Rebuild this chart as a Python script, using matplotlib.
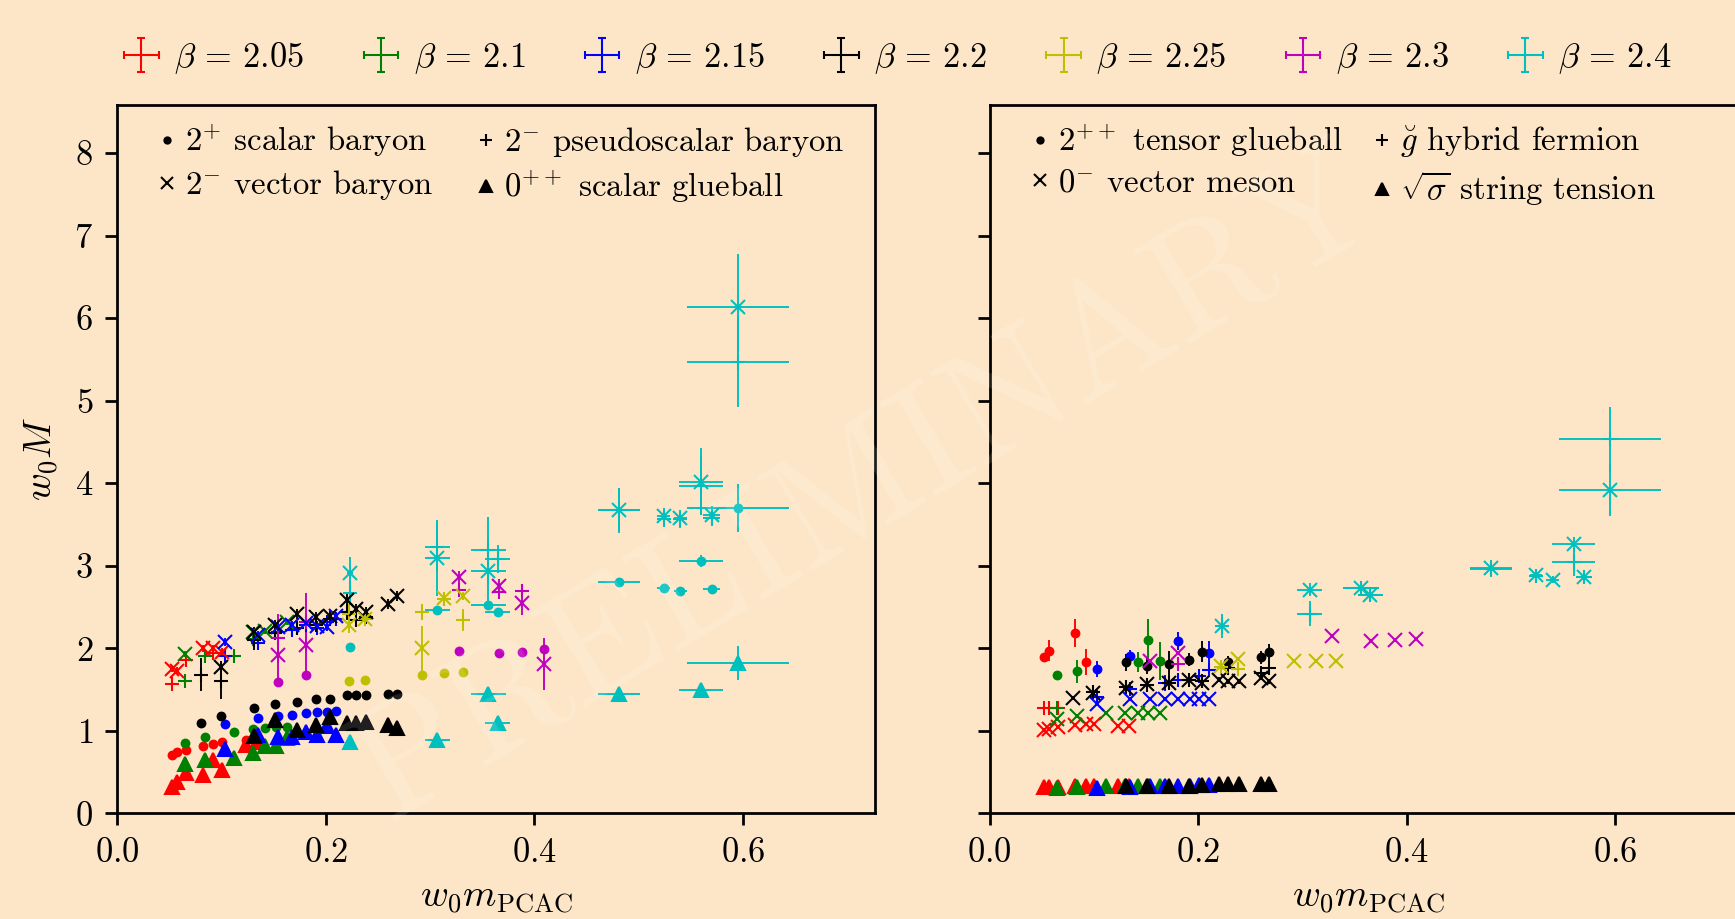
import numpy as np
import matplotlib
matplotlib.use('Agg')
import matplotlib.pyplot as plt

nan = np.nan

betas = ['2.05', '2.1', '2.15', '2.2', '2.25', '2.3', '2.4']
colors = ['r', 'g', 'b', 'k', 'y', 'm', 'c']

# w0 m_PCAC per ensemble, one list per beta
w0_mpcac = [
	[0.052, 0.057, 0.066, 0.082, 0.092, 0.100, 0.123, 0.134],
	[0.065, 0.084, 0.112, 0.130, 0.142, 0.152, 0.163],
	[0.103, 0.135, 0.154, 0.168, 0.181, 0.192, 0.201, 0.210],
	[0.080, 0.099, 0.131, 0.151, 0.172, 0.191, 0.204, 0.220, 0.229, 0.239, 0.260, 0.268],
	[0.222, 0.238, 0.292, 0.313, 0.332],
	[0.154, 0.181, 0.328, 0.366, 0.3885, 0.409],
	[0.223, 0.307, 0.356, 0.365, 0.481, 0.524, 0.540, 0.560, 0.570, 0.595],
]
w0_mpcac_err = [
	[0, 0, 0, 0, 0, 0, 0, 0],
	[0, 0, 0, 0, 0, 0, 0],
	[0, 0, 0, 0, 0, 0, 0, 0],
	[0, 0, 0, 0, 0, 0, 0, 0, 0, 0, 0, 0],
	[0, 0, 0, 0, 0],
	[0, 0, 0, 0, 0, 0],
	[0.003, 0.012, 0.017, 0.012, 0.020, 0.006, 0.006, 0.021, 0.008, 0.049],
]

# left panel
scalar_baryon = [
	[0.71, 0.74, 0.77, 0.82, 0.84, 0.86, 0.89, 0.87],
	[0.85, 0.92, 0.99, 1.02, 1.03, 1.04, 1.05],
	[1.08, 1.15, 1.18, 1.19, 1.21, 1.23, 1.23, 1.24],
	[1.10, 1.18, 1.28, 1.32, 1.35, 1.39, 1.39, 1.43, 1.43, 1.43, 1.45, 1.45],
	[1.60, 1.61, 1.67, 1.70, 1.71],
	[1.59, 1.68, 1.97, 1.94, 1.96, 1.99],
	[2.02, 2.46, 2.52, 2.44, 2.80, 2.73, 2.69, 3.06, 2.72, 3.70],
]
scalar_baryon_err = [
	[0.02, 0.02, 0.02, 0.02, 0.02, 0.02, 0.02, 0.02],
	[0.02, 0.02, 0.02, 0.02, 0.02, 0.02, 0.02],
	[0.02, 0.02, 0.02, 0.02, 0.02, 0.02, 0.02, 0.02],
	[0.02, 0.02, 0.02, 0.02, 0.02, 0.02, 0.02, 0.02, 0.02, 0.02, 0.02, 0.02],
	[0.02, 0.02, 0.02, 0.02, 0.02],
	[0.02, 0.02, 0.03, 0.03, 0.03, 0.03],
	[0.03, 0.04, 0.04, 0.04, 0.05, 0.03, 0.03, 0.07, 0.03, 0.29],
]

pseudoscalar_baryon = [
	[1.57, nan, 1.86, nan, 1.94, nan, nan, nan],
	[1.60, 1.90, 1.91, 2.11, nan, nan, nan],
	[1.91, 2.06, 2.20, 2.22, 2.28, 2.25, 2.32, 2.35],
	[1.68, 1.60, 2.10, 2.18, 2.24, 2.28, 2.35, 2.44, 2.34, 2.38, nan, nan],
	[2.42, 2.36, 2.44, 2.60, 2.34],
	[2.12, 2.32, 2.70, 2.68, 2.69, nan],
	[2.67, 3.23, 3.19, 3.08, 3.68, 3.57, 3.56, 3.97, 3.58, 5.47],
]
pseudoscalar_baryon_err = [
	[0.03, nan, 0.04, nan, 0.04, nan, nan, nan],
	[0.03, 0.04, 0.04, 0.05, nan, nan, nan],
	[0.04, 0.05, 0.05, 0.05, 0.05, 0.05, 0.05, 0.05],
	[0.20, 0.22, 0.12, 0.08, 0.06, 0.06, 0.08, 0.10, 0.06, 0.06, nan, nan],
	[0.12, 0.05, 0.10, 0.05, 0.13],
	[0.30, 0.35, 0.06, 0.06, 0.06, nan],
	[0.15, 0.30, 0.40, 0.17, 0.25, 0.10, 0.10, 0.35, 0.10, 0.55],
]

vector_baryon = [
	[1.75, 1.73, nan, 2.00, 2.00, 1.96, nan, nan],
	[1.93, nan, nan, 2.20, 2.21, nan, 2.32],
	[2.08, 2.16, 2.26, 2.28, 2.30, 2.27, 2.26, 2.39],
	[nan, 1.77, 2.20, 2.28, 2.42, 2.38, 2.39, 2.58, 2.47, 2.44, 2.54, 2.63],
	[2.28, 2.36, 2.00, 2.61, 2.63],
	[1.92, 2.04, 2.86, 2.76, 2.55, 1.81],
	[2.91, 3.09, 2.93, nan, 3.67, 3.60, 3.58, 4.02, 3.62, 6.13],
]
vector_baryon_err = [
	[0.04, 0.04, nan, 0.04, 0.04, 0.04, nan, nan],
	[0.04, nan, nan, 0.04, 0.04, nan, 0.04],
	[0.05, 0.05, 0.05, 0.05, 0.05, 0.05, 0.05, 0.05],
	[nan, 0.08, 0.06, 0.06, 0.06, 0.06, 0.06, 0.08, 0.06, 0.06, 0.06, 0.06],
	[0.10, 0.05, 0.27, 0.05, 0.05],
	[0.30, 0.38, 0.08, 0.08, 0.15, 0.31],
	[0.20, 0.46, 0.41, nan, 0.27, 0.10, 0.10, 0.40, 0.10, 0.65],
]

scalar_glueball = [
	[0.32, 0.38, 0.49, 0.46, 0.65, 0.52, 0.83, 0.86],
	[0.60, 0.65, 0.67, 0.73, 0.82, 0.81, 0.91],
	[0.78, 0.95, 0.93, 0.93, 0.98, 0.95, 1.06, 0.95],
	[nan, nan, 0.94, 1.13, 1.01, 1.07, 1.17, 1.09, 1.09, 1.11, 1.07, 1.03],
	[nan, nan, nan, nan, nan],
	[nan, nan, nan, nan, nan, nan],
	[0.87, 0.89, 1.44, 1.09, 1.45, nan, nan, 1.50, nan, 1.82],
]
scalar_glueball_err = [
	[0.03, 0.03, 0.03, 0.03, 0.03, 0.03, 0.03, 0.03],
	[0.03, 0.03, 0.03, 0.03, 0.03, 0.03, 0.03],
	[0.03, 0.03, 0.03, 0.03, 0.03, 0.03, 0.03, 0.03],
	[nan, nan, 0.04, 0.04, 0.04, 0.04, 0.05, 0.04, 0.04, 0.08, 0.04, 0.04],
	[nan, nan, nan, nan, nan],
	[nan, nan, nan, nan, nan, nan],
	[0.04, 0.07, 0.06, 0.08, 0.07, nan, nan, 0.06, nan, 0.21],
]

# right panel
tensor_glueball = [
	[1.89, 1.97, nan, 2.19, 1.83, nan, nan, nan],
	[1.68, 1.72, nan, nan, 1.83, 2.10, 1.85],
	[1.75, 1.90, nan, nan, 2.09, nan, nan, 1.94],
	[nan, nan, 1.83, 1.79, 1.81, 1.86, 1.96, nan, 1.83, nan, 1.89, 1.95],
	[nan, nan, nan, nan, nan],
	[nan, nan, nan, nan, nan, nan],
	[nan, nan, nan, nan, nan, nan, nan, nan, nan, nan],
]
tensor_glueball_err = [
	[0.05, 0.13, nan, 0.17, 0.16, nan, nan, nan],
	[0.05, 0.14, nan, nan, 0.12, 0.26, 0.23],
	[0.10, 0.08, nan, nan, 0.11, nan, nan, 0.15],
	[nan, nan, 0.10, 0.10, 0.16, 0.08, 0.13, nan, 0.08, nan, 0.08, 0.10],
	[nan, nan, nan, nan, nan],
	[nan, nan, nan, nan, nan, nan],
	[nan, nan, nan, nan, nan, nan, nan, nan, nan, nan],
]

hybrid_fermion = [
	[1.27, 1.28, 1.28, nan, nan, nan, nan, nan],
	[1.28, nan, nan, nan, nan, nan, nan],
	[1.41, 1.51, nan, 1.58, 1.62, nan, 1.66, 1.74],
	[nan, 1.47, 1.53, 1.56, 1.58, 1.62, 1.60, nan, 1.76, nan, 1.70, 1.76],
	[1.77, 1.75, nan, nan, nan],
	[nan, 1.81, nan, nan, nan, nan],
	[2.27, 2.42, 2.73, 2.65, 2.96, 2.88, nan, 3.04, 2.86, 4.53],
]
hybrid_fermion_err = [
	[0.04, 0.06, 0.04, nan, nan, nan, nan, nan],
	[0.05, nan, nan, nan, nan, nan, nan],
	[0.04, 0.04, nan, 0.10, 0.05, nan, 0.05, 0.05],
	[nan, 0.05, 0.05, 0.05, 0.05, 0.05, 0.05, nan, 0.05, nan, 0.08, 0.06],
	[0.05, 0.05, nan, nan, nan],
	[nan, 0.06, nan, nan, nan, nan],
	[0.10, 0.15, 0.04, 0.04, 0.10, 0.04, nan, 0.17, 0.04, 0.39],
]

vector_meson = [
	[1.01, 1.02, 1.04, 1.07, 1.08, 1.08, 1.06, 1.06],
	[1.14, 1.18, 1.22, 1.22, 1.22, 1.22, 1.21],
	[1.33, 1.38, 1.39, 1.39, 1.39, 1.39, 1.39, 1.39],
	[1.40, 1.46, 1.52, 1.57, 1.58, 1.62, 1.58, 1.62, 1.60, 1.60, 1.64, 1.60],
	[1.79, 1.87, 1.84, 1.84, 1.84],
	[1.84, 1.94, 2.15, 2.09, 2.10, 2.11],
	[2.27, 2.71, 2.73, 2.65, 2.97, 2.89, 2.83, 3.26, 2.86, 3.92],
]
vector_meson_err = [
	[0.02, 0.02, 0.02, 0.02, 0.02, 0.02, 0.02, 0.02],
	[0.02, 0.02, 0.02, 0.02, 0.02, 0.02, 0.02],
	[0.02, 0.02, 0.02, 0.02, 0.02, 0.02, 0.02, 0.02],
	[0.02, 0.03, 0.03, 0.03, 0.03, 0.03, 0.03, 0.03, 0.03, 0.03, 0.03, 0.03],
	[0.02, 0.02, 0.02, 0.02, 0.02],
	[0.02, 0.02, 0.02, 0.02, 0.02, 0.02],
	[0.15, 0.08, 0.04, 0.04, 0.10, 0.04, 0.04, 0.09, 0.04, 0.32],
]

string_tension = [
	[0.32, 0.32, 0.32, 0.33, 0.33, 0.33, 0.33, 0.33],
	[0.31, 0.32, 0.33, 0.33, 0.33, 0.33, 0.33],
	[0.31, 0.32, 0.33, 0.33, 0.33, 0.33, 0.34, 0.34],
	[nan, nan, 0.33, 0.33, 0.33, 0.33, 0.34, 0.35, 0.35, 0.36, 0.36, 0.36],
	[nan, nan, nan, nan, nan],
	[nan, nan, nan, nan, nan, nan],
	[nan, nan, nan, nan, nan, nan, nan, nan, nan, nan],
]
string_tension_err = [
	[0.005, 0.005, 0.005, 0.005, 0.005, 0.005, 0.005, 0.005],
	[0.005, 0.005, 0.005, 0.005, 0.005, 0.005, 0.005],
	[0.005, 0.005, 0.005, 0.005, 0.005, 0.005, 0.005, 0.005],
	[nan, nan, 0.005, 0.005, 0.005, 0.005, 0.005, 0.005, 0.005, 0.005, 0.005, 0.005],
	[nan, nan, nan, nan, nan],
	[nan, nan, nan, nan, nan, nan],
	[nan, nan, nan, nan, nan, nan, nan, nan, nan, nan],
]

bg = '#fde6c8'
plt.rcParams['font.family'] = 'cmr10'
plt.rcParams['mathtext.fontset'] = 'cm'
plt.rcParams['axes.formatter.use_mathtext'] = True
plt.rcParams['font.size'] = 10

fig = plt.figure(figsize=(1735 / 248, 919 / 248), dpi=248, facecolor=bg)
ax_l = fig.add_axes([0.0676, 0.115, 0.4369, 0.7706], facecolor=bg)
ax_r = fig.add_axes([0.5704, 0.115, 0.4369, 0.7706], facecolor=bg)

sizes = {'.': 4.5, '+': 4, 'x': 4, '^': 4}


def draw(ax, values, errors, marker):
	for i, c in enumerate(colors):
		ax.errorbar(w0_mpcac[i], values[i], xerr=w0_mpcac_err[i], yerr=errors[i],
			fmt=marker, color=c, ms=sizes[marker], mew=0.6, elinewidth=0.55, capsize=0)


draw(ax_l, scalar_baryon, scalar_baryon_err, '.')
draw(ax_l, pseudoscalar_baryon, pseudoscalar_baryon_err, '+')
draw(ax_l, vector_baryon, vector_baryon_err, 'x')
draw(ax_l, scalar_glueball, scalar_glueball_err, '^')

draw(ax_r, tensor_glueball, tensor_glueball_err, '.')
draw(ax_r, hybrid_fermion, hybrid_fermion_err, '+')
draw(ax_r, vector_meson, vector_meson_err, 'x')
draw(ax_r, string_tension, string_tension_err, '^')

for ax in (ax_l, ax_r):
	ax.set_xlim(0, 0.727)
	ax.set_ylim(0, 8.58)
	ax.set_xticks([0.0, 0.2, 0.4, 0.6])
	ax.set_yticks(range(9))
	ax.set_xlabel(r'$w_0 m_{\mathrm{PCAC}}$', fontsize=11)
ax_l.set_ylabel(r'$w_0 M$', fontsize=11)
ax_r.set_yticklabels([])


# marker legends inside the panels
def marker_legend(ax, labels, colsp):
	handles = [plt.Line2D([], [], ls='none', marker=m, color='k', ms=s * 0.8, mew=0.6)
		for m, s in zip(['.', 'x', '+', '^'], [4.5, 4, 4, 4])]
	ax.legend(handles, labels, ncol=2, loc='upper left', bbox_to_anchor=(0.036, 0.995),
		frameon=False, handlelength=0.6, handletextpad=0.25, columnspacing=colsp,
		labelspacing=0.28, borderaxespad=0.0, fontsize=9.5)


marker_legend(ax_l, [r'$2^{+}$ scalar baryon', r'$2^{-}$ vector baryon',
	r'$2^{-}$ pseudoscalar baryon', r'$0^{++}$ scalar glueball'], 1.3)
marker_legend(ax_r, [r'$2^{++}$ tensor glueball', r'$0^{-}$ vector meson',
	r'$\breve{g}$ hybrid fermion', r'$\sqrt{\sigma}$ string tension'], 0.9)

# beta legend at the top
beta_handles = []
for c in colors:
	h = ax_l.errorbar([nan], [nan], xerr=[1], yerr=[1], color=c, ls='none',
		elinewidth=0.6, capsize=1.2, capthick=0.6)
	beta_handles.append(h)
fig.legend(beta_handles, [r'$\beta \,=\, %s$' % b for b in betas], ncol=7,
	loc='center', bbox_to_anchor=(0.517, 0.937), frameon=False,
	handlelength=1.1, handletextpad=0.4, columnspacing=1.68, fontsize=10)

fig.text(0.5, 0.47, 'PRELIMINARY', rotation=31, fontsize=46, color='white',
	alpha=0.13, ha='center', va='center')

fig.savefig('out.png', dpi=248, facecolor=bg)
